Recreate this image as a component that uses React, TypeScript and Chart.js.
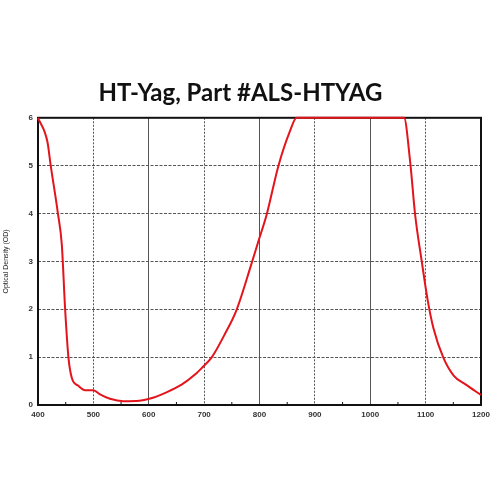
import { useEffect, useRef } from 'react';
import { Chart, registerables } from 'chart.js';

Chart.register(...registerables);

const wavelength = [400, 417, 423, 436, 443, 449, 455, 461, 473, 485, 500, 512, 530, 554, 583, 601, 631, 660, 684, 698, 714, 736, 759, 786, 798, 813, 834, 855, 867, 960, 1061, 1072, 1081, 1093, 1104, 1114, 1132, 1151, 1172, 1200];
const od = [6, 5.5, 5.0, 4.0, 3.35, 2.0, 0.99, 0.57, 0.4, 0.31, 0.31, 0.22, 0.13, 0.08, 0.09, 0.13, 0.26, 0.43, 0.64, 0.8, 1.0, 1.45, 2.0, 2.97, 3.42, 3.98, 4.99, 5.72, 6, 6, 6, 5.09, 3.98, 3.0, 2.17, 1.61, 0.99, 0.61, 0.43, 0.21];
const minorTicks = [450, 550, 650, 750, 850, 950, 1050, 1150];
const title = 'HT-Yag, Part #ALS-HTYAG';
const yTitle = 'Optical Density (OD)';

// frame + minor ticks go under the red curve
const frame = {
  id: 'frame',
  beforeDatasetsDraw(chart) {
    const { ctx, chartArea: a, scales } = chart;
    ctx.save();
    ctx.strokeStyle = '#111';
    ctx.lineWidth = 1;
    minorTicks.forEach((v) => {
      const x = scales.x.getPixelForValue(v);
      ctx.beginPath();
      ctx.moveTo(x, a.bottom);
      ctx.lineTo(x, a.bottom - 3);
      ctx.stroke();
    });
    ctx.lineWidth = 2;
    ctx.strokeRect(a.left, a.top, a.right - a.left, a.bottom - a.top);
    ctx.restore();
  },
};

export default function App() {
  const chartRef = useRef(null);

  useEffect(() => {
    document.body.style.margin = '0';
    const chart = new Chart(chartRef.current.getContext('2d'), {
      type: 'line',
      data: {
        datasets: [
          {
            label: 'OD',
            data: wavelength.map((x, i) => ({ x, y: od[i] })),
            borderColor: '#e3141b',
            borderWidth: 2,
            pointRadius: 0,
            cubicInterpolationMode: 'monotone',
            fill: false,
            clip: false,
          },
        ],
      },
      options: {
        animation: false,
        responsive: false,
        layout: { padding: { left: 0, right: 19, top: 0, bottom: 0 } },
        plugins: {
          legend: { display: false },
          tooltip: { enabled: false },
          title: {
            display: true,
            text: title,
            color: '#111',
            font: { family: 'Lato', size: 24, weight: 'bold' },
            padding: { top: 79, bottom: 10 },
          },
        },
        scales: {
          x: {
            type: 'linear',
            min: 400,
            max: 1200,
            ticks: {
              stepSize: 100,
              color: '#333',
              padding: 5,
              font: { family: 'Liberation Sans', size: 8, weight: 'bold' },
              callback: (v) => String(v),
            },
            grid: { color: '#555', lineWidth: 1, drawTicks: false },
            border: { display: false, dash: (c) => (c.tick && c.tick.value % 200 === 0 ? [] : [2, 1.5]) },
            afterFit(s) { s.height = 95; },
          },
          y: {
            min: 0,
            max: 6,
            ticks: {
              stepSize: 1,
              color: '#333',
              padding: 5,
              font: { family: 'Liberation Sans', size: 8, weight: 'bold' },
              callback: (v) => String(v),
            },
            grid: { color: '#555', lineWidth: 1, drawTicks: false },
            border: { display: false, dash: [3, 1.5] },
            title: { display: true, text: yTitle, color: '#222', padding: 2, font: { family: 'Liberation Sans', size: 7 } },
            afterFit(s) { s.width = 38; },
          },
        },
      },
      plugins: [frame],
    });
    return () => chart.destroy();
  }, []);

  return (
    <div style={{ width: 500, height: 500, background: '#fff' }}>
      <canvas ref={chartRef} width={500} height={500} />
    </div>
  );
}
